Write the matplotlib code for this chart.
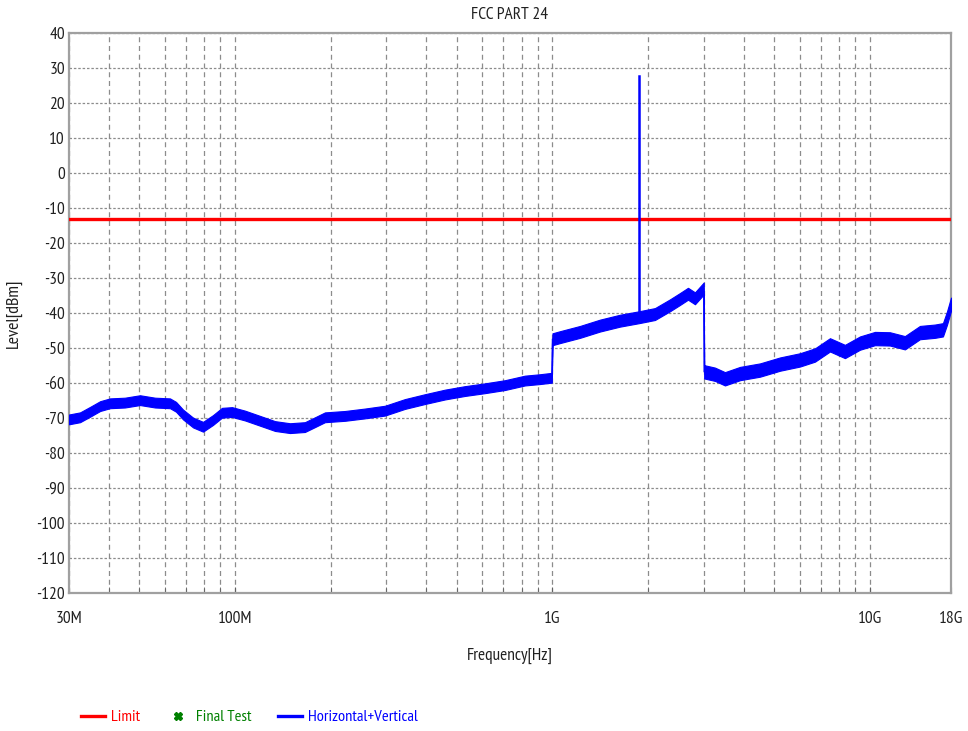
import numpy as np
import matplotlib
matplotlib.use("Agg")
import matplotlib.pyplot as plt
from matplotlib.ticker import FixedLocator, NullFormatter
from matplotlib.lines import Line2D
from matplotlib import font_manager

# ---------------- data ----------------
title = "FCC PART 24"
x_label = "Frequency[Hz]"
y_label = "Level[dBm]"

limit_dbm = -13.0

freq_mhz = [30, 32.5, 35, 37.6, 40.4, 45, 50.2, 56, 62.4, 65.2, 68.6, 73.8, 79.3,
            85.2, 91, 97.9, 107.5, 119.9, 133.7, 149, 166, 178.6, 192, 222, 256.7,
            296.8, 343, 396.7, 458.6, 530, 613, 708.6, 819, 913, 995, 1000, 1056,
            1221, 1411, 1631, 1875, 2103, 2345, 2521, 2672, 2811, 2995, 3005, 3249,
            3494, 3897, 4504, 5207, 6019, 6712, 7483, 8341, 9301, 10368, 11560,
            12885, 14366, 16019, 16977, 17479, 18000]
level_dbm = [-70.4, -69.8, -68.2, -66.6, -65.8, -65.6, -64.9, -65.6, -65.8, -66.8,
             -69.0, -71.3, -72.5, -70.6, -68.5, -68.3, -69.3, -70.8, -72.3, -72.9,
             -72.6, -71.2, -69.8, -69.4, -68.7, -67.9, -66.0, -64.6, -63.3, -62.3,
             -61.5, -60.6, -59.3, -58.9, -58.5, -47.5, -46.9, -45.4, -43.6, -42.2,
             -41.2, -40.3, -37.8, -36.0, -34.5, -35.8, -33.0, -56.8, -57.5, -58.8,
             -57.3, -56.3, -54.6, -53.4, -52.0, -49.1, -51.0, -48.6, -47.3, -47.4,
             -48.5, -45.6, -45.2, -44.8, -41.5, -37.5]
# half width of the noisy trace band (peak-to-peak / 2)
spread_db = [1.4] * 35 + [1.7] * 12 + [1.9] * 19

spike_freq_mhz = 1875
spike_base_dbm = -41.2
spike_peak_dbm = 27.8

x_tick_values = [30e6, 100e6, 1e9, 10e9, 18e9]
x_tick_labels = ["30M", "100M", "1G", "10G", "18G"]
y_ticks = list(range(-120, 41, 10))

legend_labels = ["Limit", "Final Test", "Horizontal+Vertical"]

# ---------------- style ----------------
avail = {f.name for f in font_manager.fontManager.ttflist}
fam = "Liberation Sans"
for cand in ["Liberation Sans Narrow", "Arial Narrow", "PT Sans Narrow",
             "Archivo Narrow", "Roboto Condensed", "Pragati Narrow"]:
    if cand in avail:
        fam = cand
        break
plt.rcParams['font.family'] = [fam, 'DejaVu Sans']
narrow = fam != "Liberation Sans"
fs = 12.5 if narrow else 11
lfs = 11.8 if narrow else 10.5

W, H = 968, 731
fig = plt.figure(figsize=(W / 100, H / 100), dpi=100)
ax = fig.add_axes([69 / W, 1 - 593 / H, (951 - 69) / W, (593 - 33) / H])

f = np.array(freq_mhz) * 1e6
lv = np.array(level_dbm)
sp = np.array(spread_db)

blue = "#0000ff"
red = "#ff0000"
green = "#008000"
grid_c = "#8c8c8c"
txt_c = "#202020"

# limit line
ax.plot([30e6, 18e9], [limit_dbm, limit_dbm], color=red, lw=2.4, zorder=3)

# trace
ax.fill_between(f, lv - sp, lv + sp, color=blue, lw=0.8, edgecolor=blue, zorder=4)
ax.plot(f, lv, color=blue, lw=1.0, zorder=4)
ax.plot([spike_freq_mhz * 1e6] * 2, [spike_base_dbm, spike_peak_dbm],
        color=blue, lw=1.8, zorder=4)

ax.set_xscale("log")
ax.set_xlim(30e6, 18e9)
ax.set_ylim(-120, 40)

ax.xaxis.set_major_locator(FixedLocator(x_tick_values))
ax.set_xticklabels(x_tick_labels)
minor = [m * 10 ** e for e in range(7, 11) for m in range(2, 10)]
minor = [v for v in minor if 30e6 < v < 18e9 and v not in x_tick_values]
ax.xaxis.set_minor_locator(FixedLocator(minor))
ax.xaxis.set_minor_formatter(NullFormatter())

ax.set_yticks(y_ticks)
ax.set_yticklabels([str(v) for v in y_ticks])

ax.tick_params(axis="x", which="both", direction="in", length=4, color="#606060",
               pad=13, labelsize=fs, labelcolor=txt_c)
ax.tick_params(axis="y", which="both", length=0, pad=3, labelsize=fs,
               labelcolor=txt_c)

ax.grid(True, axis="x", which="both", color=grid_c, ls=(0, (4, 3)), lw=0.9)
ax.grid(True, axis="y", which="major", color=grid_c, ls=(0, (2, 1.5)), lw=0.9)
ax.set_axisbelow(True)

for s in ax.spines.values():
    s.set_color("#a0a0a0")
    s.set_linewidth(1.6)

ax.text(0.5, 1.032, title, transform=ax.transAxes, ha="center", va="center",
        fontsize=fs, color=txt_c)
ax.set_xlabel(x_label, fontsize=fs, color=txt_c)
ax.xaxis.set_label_coords(0.5, -0.098)
ax.set_ylabel(y_label, fontsize=fs + 0.5, color=txt_c)
ax.yaxis.set_label_coords(-0.053, 0.5)

handles = [Line2D([], [], color=red, lw=2.4),
           Line2D([], [], color=green, marker="X", ls="none", markersize=6),
           Line2D([], [], color=blue, lw=2.4)]
leg = fig.legend(handles, legend_labels, loc="center left",
                 bbox_to_anchor=(81 / W, 1 - 717 / H), ncol=3, frameon=False,
                 fontsize=lfs, handlelength=1.46, handletextpad=0.37,
                 columnspacing=1.6, borderaxespad=0, borderpad=0)
for t, c in zip(leg.get_texts(), [red, green, blue]):
    t.set_color(c)

fig.savefig("out.png", dpi=100)
